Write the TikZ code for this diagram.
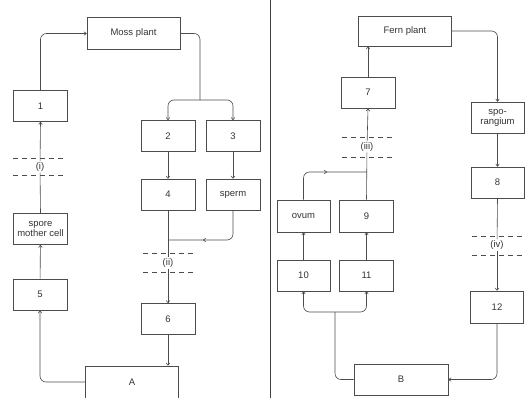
\documentclass[tikz,border=0pt]{standalone}
\usepackage{fontspec}
\setmainfont{Liberation Sans}
\usetikzlibrary{arrows.meta,decorations.markings}

\tikzset{
  box/.style={draw=black!70, line width=0.6pt, minimum width=54pt, minimum height=31pt,
    inner sep=1pt, align=center, font=\fontsize{9.5}{10}\selectfont, text=black!80},
  bigbox/.style={box, minimum width=93pt, minimum height=32pt},
  cut/.style={draw=black!70, dashed, dash pattern=on 5pt off 4pt, line width=0.6pt},
  stage/.style={font=\fontsize{9.5}{10}\selectfont, text=black!80, inner sep=1pt},
  midarrow/.style={postaction={decorate}, decoration={markings,
    mark=at position #1 with {\arrow{To[length=3pt,width=4pt]}}}},
}

\begin{document}
\begin{tikzpicture}[x=1pt, y=-1pt, line width=0.6pt, draw=black!70,
    >={To[length=3pt,width=4pt]}]
		\useasboundingbox (0,0) rectangle (529,398);

		% Moss
		\node[bigbox] (moss) at (133.5, 33.5){Moss plant};
		\node[box] (b1) at (40.5, 106){1};
		\node[box] (b2) at (168, 136){2};
		\node[box] (b3) at (233, 136){3};
		\node[box] (b4) at (168, 194.5){4};
		\node[box] (sperm) at (233, 194.5){sperm};
		\node[box] (smc) at (40.5, 229){spore\\mother cell};
		\node[box] (b5) at (40, 294.5){5};
		\node[box] (b6) at (168, 319){6};
		\node[bigbox] (A) at (132, 382){A};

		\node[stage] (i) at (40, 167){(i)};
		\draw[cut] (13, 158) -- (65, 158);
		\draw[cut] (13, 175) -- (65, 175);
		\node[stage] (ii) at (168, 263){(ii)};
		\draw[cut] (143, 253) -- (195, 253);
		\draw[cut] (143, 272) -- (195, 272);

		\coordinate (split1) at (200, 100);
		\coordinate (join1) at (168, 240);

		\draw[->, rounded corners=6pt] (b1.north) |- (moss.west);
		\draw[rounded corners=6pt] (moss.east) -| (split1);
		\draw[->, rounded corners=6pt] (split1) -| (b2.north);
		\draw[->, rounded corners=6pt] (split1) -| (b3.north);
		\draw[->] (b2) edge (b4) (b3) edge (sperm);
		\draw (b4.south) -- (ii);
		\draw[rounded corners=6pt, midarrow=0.62] (sperm.south) |- (join1);
		\draw[->] (ii) -- (b6.north);
		\draw[->] (b6.south) -- (b6.south |- A.north);
		\draw[->, rounded corners=6pt] (A.west) -| (b5.south);
		\draw[->] (b5) edge (smc);
		\draw (smc.north) -- (i);
		\draw[->] (i) -- (b1.south);

		% Middle line
		\draw[black!75] (270, 0) -- (270, 398);

		% Fern
		\node[bigbox, minimum height=30pt] (fern) at (405, 31){Fern plant};
		\node[box] (b7) at (368, 92.5){7};
		\node[box, minimum width=53pt] (spor) at (497.5, 117.5){spo-\\rangium};
		\node[box, minimum width=53pt] (b8) at (497.5, 182.5){8};
		\node[box, minimum width=53pt, minimum height=32pt] (ovum) at (303.5, 216){ovum};
		\node[box, minimum height=32pt] (b9) at (366.5, 216){9};
		\node[box, minimum width=53pt] (b10) at (303.5, 275.5){10};
		\node[box] (b11) at (366.5, 275.5){11};
		\node[box, minimum width=53pt, minimum height=32pt] (b12) at (497, 307){12};
		\node[bigbox, minimum width=94pt, minimum height=31pt] (B) at (401, 379.5){B};

		\node[stage] (iii) at (367, 147){(iii)};
		\draw[cut] (342, 137) -- (392, 137);
		\draw[cut] (342, 157) -- (392, 157);
		\node[stage] (iv) at (497, 245){(iv)};
		\draw[cut] (472, 236) -- (522, 236);
		\draw[cut] (472, 255) -- (522, 255);

		\coordinate (split2) at (335, 312);
		\coordinate (join2) at (367, 172);

		\draw[->] (b7.north) -- (b7.north |- fern.south);
		\draw[->, rounded corners=6pt] (fern.east) -| (spor.north);
		\draw[->] (spor) edge (b8);
		\draw (b8.south) -- (iv);
		\draw[->] (iv) -- (b12.north);
		\draw[->, rounded corners=6pt] (b12.south) |- (B.east);
		\draw[rounded corners=6pt] (B.west) -| (split2);
		\draw[->, rounded corners=6pt] (split2) -| (b10.south);
		\draw[->, rounded corners=6pt] (split2) -| (b11.south);
		\draw[->] (b10) edge (ovum) (b11) edge (b9);
		\draw (b9.north) -- (iii);
		\draw[rounded corners=6pt, midarrow=0.55] (ovum.north) |- (join2);
		\draw[->] (iii) -- (b7.south);
	\end{tikzpicture}
\end{document}
